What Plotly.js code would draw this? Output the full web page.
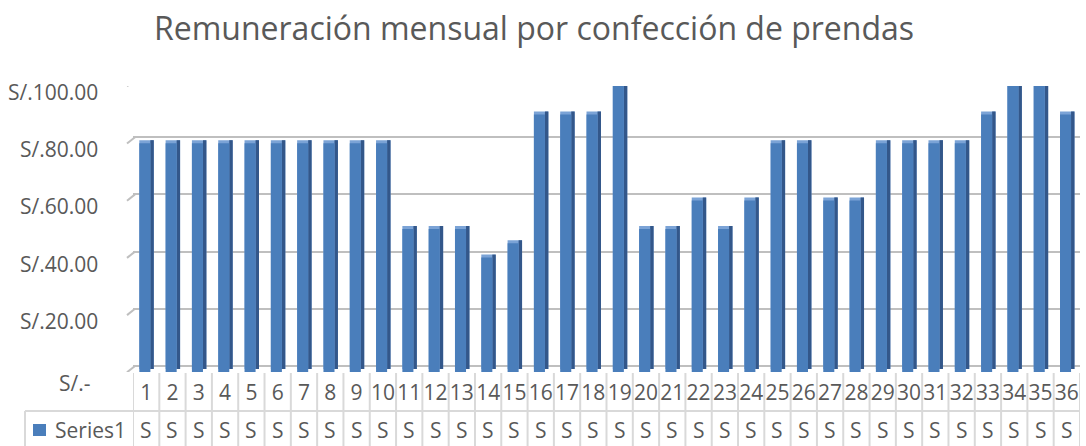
<!DOCTYPE html>
<html>
<head>
<meta charset="utf-8">
<script src="https://cdn.plot.ly/plotly-3.0.1.min.js"></script>
<style>html,body{margin:0;padding:0;background:#fff;}#chart{width:1086px;height:446px;}</style>
</head>
<body>
<div id="chart"></div>
<script>
// ---- data ----
const categories = ["1","2","3","4","5","6","7","8","9","10","11","12","13","14","15","16","17","18","19","20","21","22","23","24","25","26","27","28","29","30","31","32","33","34","35","36"];
const seriesName = "Series1";
const values = [80,80,80,80,80,80,80,80,80,80,50,50,50,40,45,90,90,90,100,50,50,60,50,60,80,80,60,60,80,80,80,80,90,100,100,90];
const tickVals = [0,20,40,60,80,100];
const tickLabels = ["S/.-","S/.20.00","S/.40.00","S/.60.00","S/.80.00","S/.100.00"];
const tableCellText = values.map(v => ("S/." + v.toFixed(2)).charAt(0)); // truncated cell text as shown

// ---- geometry ----
const W = 1086, H = 446, L = 133, R = 6, T = 86, B = 74;
const PW = W - L - R, PH = H - T - B, k = PH / 100;
const px2x = p => (p - L) / PW;
const py2y = p => (H - B - p) / PH;
const shiftRange = s => [-s / k, 100 - s / k];

const txt = "#595959";
const font = "Open Sans, Noto Sans, sans-serif";
const xs = categories.map((c, i) => i + 1);

const traces = [
  // back/top face and side face on the main (slightly raised) axis
  { type: "bar", x: xs, y: values, yaxis: "y", offset: -0.26, width: 0.55,
    marker: { color: "#7ba3d6" }, hoverinfo: "skip", showlegend: false },
  { type: "bar", x: xs, y: values, yaxis: "y", offset: 0.16, width: 0.13,
    marker: { color: "#33578a" }, hoverinfo: "skip", showlegend: false },
  // gridline (back wall) axis
  { type: "scatter", x: [1], y: [0], yaxis: "y2", mode: "markers",
    marker: { opacity: 0 }, hoverinfo: "skip", showlegend: false },
  // front face on the top-most overlay axis
  { type: "bar", name: seriesName, x: xs, y: values, yaxis: "y3", offset: -0.26, width: 0.42,
    marker: { color: "#4a7ebb" }, showlegend: false }
];

const annotations = [];
tickVals.forEach((v, i) => {
  annotations.push({ xref: "paper", yref: "y3", x: px2x(100), y: v, xanchor: "right", yanchor: "middle",
    text: tickLabels[i], showarrow: false, yshift: v === 0 ? -11 : -6, xshift: v === 0 ? -7 : 0,
    font: { family: font, size: 21, color: txt } });
});
xs.forEach((x, i) => {
  annotations.push({ xref: "x", yref: "paper", x: x, y: py2y(430), xanchor: "center", yanchor: "middle",
    text: tableCellText[i], showarrow: false, font: { family: font, size: 21, color: txt } });
});
annotations.push({ xref: "paper", yref: "paper", x: px2x(53), y: py2y(430), xanchor: "left", yanchor: "middle",
  text: seriesName, showarrow: false, font: { family: font, size: 21, color: txt } });

const lineCol = "#d9d9d9";
const shapes = [];
for (let i = 0; i <= categories.length; i++) {
  shapes.push({ type: "line", xref: "x", yref: "paper", x0: i + 0.5, x1: i + 0.5, y0: py2y(373), y1: py2y(452),
    line: { color: lineCol, width: 2 } });
}
shapes.push({ type: "line", xref: "paper", yref: "paper", x0: px2x(25), x1: px2x(L + PW), y0: py2y(411), y1: py2y(411),
  line: { color: lineCol, width: 2 } });
shapes.push({ type: "line", xref: "paper", yref: "paper", x0: px2x(25), x1: px2x(25), y0: py2y(411), y1: py2y(452),
  line: { color: lineCol, width: 2 } });
shapes.push({ type: "rect", xref: "paper", yref: "paper", x0: px2x(33), x1: px2x(46), y0: py2y(424), y1: py2y(436),
  fillcolor: "#4a7ebb", line: { width: 0 } });
tickVals.forEach(v => {
  shapes.push({ type: "line", xref: "paper", yref: "y2", x0: px2x(127), x1: px2x(135), y0: v - 2.2, y1: v,
    line: { color: "#bfbfbf", width: 2 }, layer: "below" });
});

const layout = {
  width: W, height: H,
  margin: { l: L, r: R, t: T, b: B },
  paper_bgcolor: "#fff", plot_bgcolor: "rgba(0,0,0,0)",
  title: { text: "Remuneración mensual por confección de prendas", xref: "container", yref: "container",
    x: 534 / W, xanchor: "center", y: 1 - 29 / H, yanchor: "middle",
    font: { family: font, size: 32, color: txt } },
  barmode: "overlay",
  xaxis: { range: [0.5, 36.5], tickmode: "array", tickvals: xs, ticktext: categories,
    showgrid: false, zeroline: false, showline: false, ticks: "", ticklabelstandoff: 6,
    tickfont: { family: font, size: 21, color: txt }, fixedrange: true },
  yaxis: { range: shiftRange(3), showgrid: false, zeroline: false, showticklabels: false, fixedrange: true },
  yaxis2: { overlaying: "y", range: shiftRange(6), tickvals: tickVals, showgrid: true, gridcolor: "#bfbfbf",
    gridwidth: 2, zeroline: false, showticklabels: false, fixedrange: true },
  yaxis3: { overlaying: "y", range: [0, 100], showgrid: false, zeroline: false, showticklabels: false, fixedrange: true },
  annotations: annotations,
  shapes: shapes,
  showlegend: false
};

Plotly.newPlot("chart", traces, layout, { displayModeBar: false, staticPlot: true });
</script>
</body>
</html>
